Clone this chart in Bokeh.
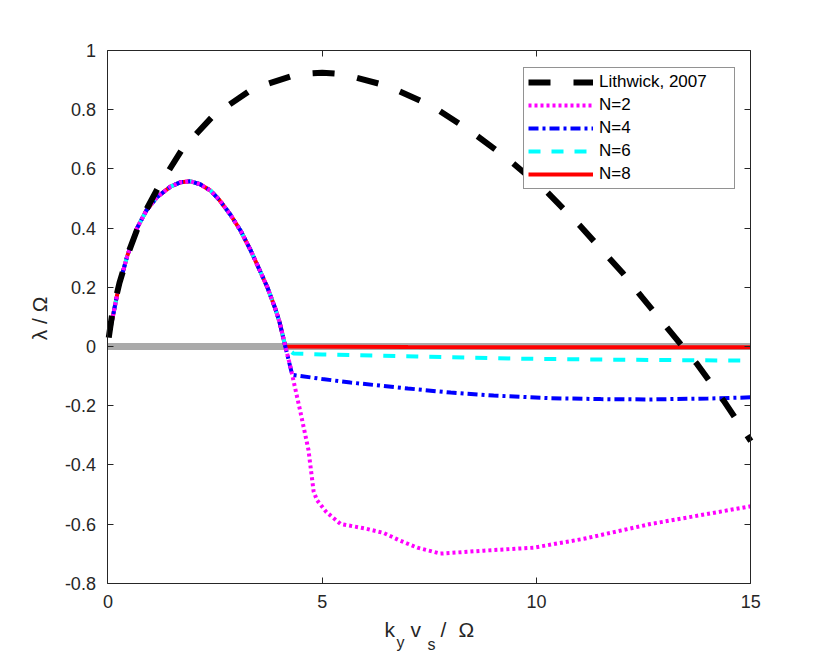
import math
from bokeh.plotting import figure
from bokeh.models import Range1d, LinearAxis, FixedTicker, Legend, LegendItem, Label
from bokeh.embed import file_html
from bokeh.resources import INLINE

# ---------------- data ----------------
lith_x = [0.02, 0.1, 0.27, 0.5, 0.76, 1.16, 1.74, 2.46, 3.37, 4.42, 5.0, 5.5, 6.53,
          7.53, 8.44, 9.32, 10.26, 11.0, 12.0, 12.47, 13.05, 13.75, 14.37, 15.0]
lith_y = [0.03, 0.11, 0.215, 0.325, 0.425, 0.534, 0.668, 0.78, 0.87, 0.92, 0.925, 0.92, 0.88,
          0.815, 0.73, 0.635, 0.52, 0.41, 0.25, 0.165, 0.063, -0.06, -0.184, -0.32]

# common unstable branch (shared by all N)
rise_x = [0.03, 0.1, 0.25, 0.45, 0.68, 0.9, 1.15, 1.46, 1.7, 1.93, 2.15, 2.39, 2.6,
          2.86, 3.1, 3.33, 3.55, 3.72, 3.9, 4.0, 4.14]
rise_y = [0.04, 0.09, 0.2, 0.305, 0.40, 0.46, 0.505, 0.54, 0.555, 0.558, 0.548, 0.527, 0.495,
          0.445, 0.39, 0.325, 0.255, 0.2, 0.13, 0.085, 0.0]

n2_x = [4.26, 4.49, 4.68, 4.8, 4.88, 5.1, 5.43, 6.0, 6.43, 6.8, 7.22, 7.76, 8.77, 9.93, 11.1, 12.66, 15.0]
n2_y = [-0.07, -0.22, -0.35, -0.49, -0.52, -0.56, -0.60, -0.615, -0.63, -0.655, -0.68, -0.70, -0.69, -0.68, -0.65, -0.60, -0.54]

n4_x = [4.3, 5.0, 5.66, 7.0, 8.0, 9.0, 10.33, 11.5, 12.66, 14.0, 15.0]
n4_y = [-0.096, -0.11, -0.122, -0.142, -0.156, -0.166, -0.175, -0.178, -0.179, -0.176, -0.172]

n6_x = [4.33, 5.0, 7.2, 9.93, 12.0, 15.0]
n6_y = [-0.024, -0.027, -0.034, -0.042, -0.045, -0.048]

n8_x = [7.0, 10.0, 15.0]
n8_y = [-0.002, -0.003, -0.003]

zero_x = [0, 15]
zero_y = [0, 0]

x_ticks = [0, 5, 10, 15]
y_ticks = [-0.8, -0.6, -0.4, -0.2, 0, 0.2, 0.4, 0.6, 0.8, 1]
y_tick_labels = ["-0.8", "-0.6", "-0.4", "-0.2", "0", "0.2", "0.4", "0.6", "0.8", "1"]

legend_labels = ["Lithwick, 2007", "N=2", "N=4", "N=6", "N=8"]

# ---------------- geometry (pixels of the canvas) ----------------
W, H = 814, 656
X0PX, X15PX = 107.4, 750.3     # pixel of x=0 and x=15
Y1PX, YM8PX = 50.0, 582.7      # pixel of y=1 and y=-0.8

def px2x(px):
    return (px - X0PX) / (X15PX - X0PX) * 15.0

def py2y(py):
    return 1.0 - (py - Y1PX) / (YM8PX - Y1PX) * 1.8

FONT = "Liberation Sans"
AX = "#262626"

p = figure(width=W, height=H, output_backend="svg", toolbar_location=None,
           x_range=Range1d(px2x(0), px2x(W)), y_range=Range1d(py2y(H), py2y(0)),
           min_border=0, min_border_left=0, min_border_right=0,
           min_border_top=0, min_border_bottom=0,
           background_fill_color="white", border_fill_color="white")
p.outline_line_color = None
p.xgrid.visible = False
p.ygrid.visible = False

def style_axis(ax, ticks, show_labels):
    ax.ticker = FixedTicker(ticks=ticks, minor_ticks=[])
    ax.axis_line_color = AX
    ax.axis_line_width = 1
    ax.major_tick_line_color = AX
    ax.major_tick_in = 6
    ax.major_tick_out = 0
    ax.minor_tick_line_color = None
    ax.major_label_text_font = FONT
    ax.major_label_text_font_size = "18px"
    ax.major_label_standoff = 12
    if show_labels:
        ax.major_label_text_color = AX
    else:
        ax.major_label_text_color = None
        ax.major_label_overrides = {t: "" for t in ticks}

bottom = p.xaxis[0]
style_axis(bottom, x_ticks, True)
bottom.fixed_location = -0.8
bottom.bounds = (0, 15)

left = p.yaxis[0]
style_axis(left, y_ticks, True)
left.major_label_overrides = {t: s for t, s in zip(y_ticks, y_tick_labels)}
left.fixed_location = 0
left.bounds = (-0.8, 1)

top_ax = LinearAxis(fixed_location=1, bounds=(0, 15))
style_axis(top_ax, x_ticks, False)
p.add_layout(top_ax, "above")
right_ax = LinearAxis(fixed_location=15, bounds=(-0.8, 1))
style_axis(right_ax, y_ticks, False)
p.add_layout(right_ax, "right")

# ---------------- lines ----------------
p.line(zero_x, zero_y, line_color="#aaaaaa", line_width=7)
r8 = p.line(rise_x + n8_x, rise_y + n8_y, line_color="#ff0000", line_width=4)
r6 = p.line(rise_x + n6_x, rise_y + n6_y, line_color="#00ffff", line_width=4, line_dash="12 11")
r4 = p.line(rise_x + n4_x, rise_y + n4_y, line_color="#0000ff", line_width=4, line_dash="10 4 3 4")
r2 = p.line(rise_x + n2_x, rise_y + n2_y, line_color="#ff00ff", line_width=4, line_dash="3 3")
rl = p.line(lith_x, lith_y, line_color="black", line_width=6, line_dash="22 23")

# legend box: left 522.7, bottom 189 (canvas pixels)
legend = Legend(items=[LegendItem(label=legend_labels[0], renderers=[rl]),
                       LegendItem(label=legend_labels[1], renderers=[r2]),
                       LegendItem(label=legend_labels[2], renderers=[r4]),
                       LegendItem(label=legend_labels[3], renderers=[r6]),
                       LegendItem(label=legend_labels[4], renderers=[r8])],
                location=(523, H - 189), margin=0, padding=4, spacing=3,
                glyph_width=65, glyph_height=20, label_height=20, label_width=131,
                label_standoff=6, label_text_font=FONT, label_text_font_size="17px",
                label_text_color="black",
                border_line_color=AX, border_line_width=1,
                background_fill_color="white", background_fill_alpha=1.0)
p.add_layout(legend)

# ---------------- axis labels ----------------
p.add_layout(Label(x=px2x(39), y=py2y(318), text="λ / Ω", angle=math.pi / 2,
                   text_font=FONT, text_font_size="21px", text_color=AX,
                   text_align="center", text_baseline="alphabetic"))

xlabel_parts = [("k", 384, 629, "21px"), ("y", 396, 642, "16px"), ("v", 410, 629, "21px"),
                ("s", 427, 644, "16px"), ("/", 440, 629, "21px"), ("Ω", 458, 629, "21px")]
for txt, lx, ly, fs in xlabel_parts:
    p.add_layout(Label(x=px2x(lx), y=py2y(ly), text=txt, text_font=FONT, text_font_size=fs,
                       text_color=AX, text_align="left", text_baseline="alphabetic"))

open("out.html", "w").write(file_html(p, INLINE))
